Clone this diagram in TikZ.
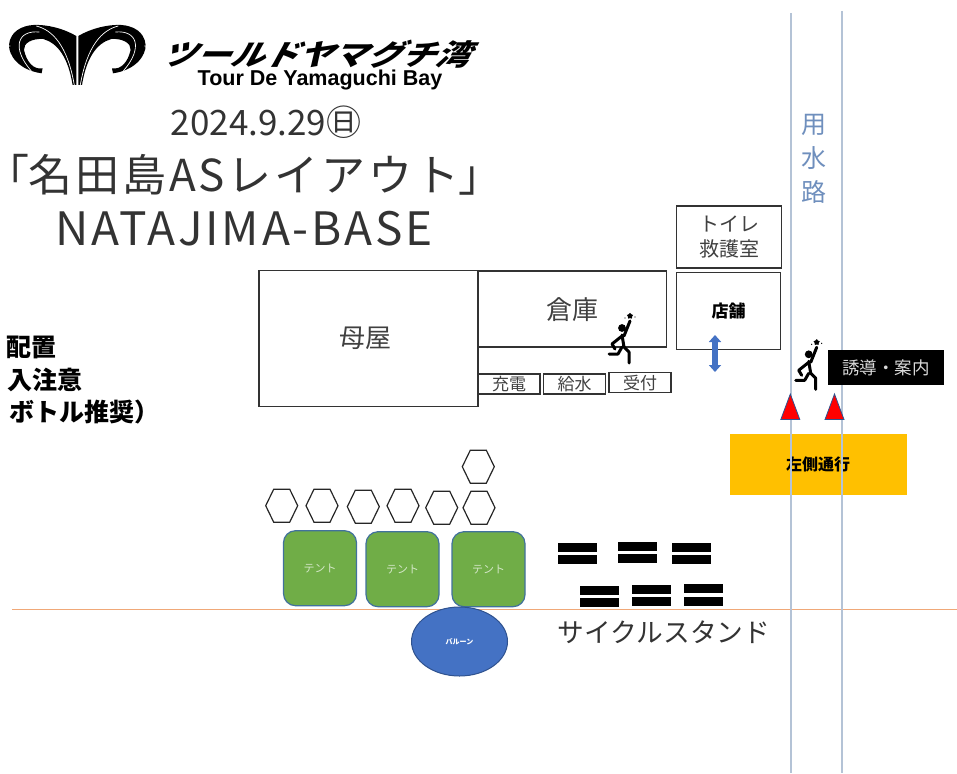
\documentclass[tikz,border=0pt]{standalone}
\usepackage{fontspec}
\setmainfont{Noto Sans CJK JP}
\newfontfamily\logofont{Liberation Sans}
\newfontfamily\tightfont[RawFeature=+palt]{Noto Sans CJK JP}
\usepackage{tikz}
\usetikzlibrary{shapes,arrows,arrows.meta}
\definecolor{tentgreen}{HTML}{70AD47}
\definecolor{tentline}{HTML}{41719C}
\definecolor{balloonblue}{HTML}{4472C4}
\definecolor{balloonline}{HTML}{2F528F}
\definecolor{signyellow}{HTML}{FFC000}
\definecolor{canalblue}{HTML}{B4C3D6}
\definecolor{canaltext}{HTML}{6F8FBD}
\definecolor{roadorange}{HTML}{F0A878}
\newcommand{\pxfont}[1]{\fontsize{#1}{#1}\selectfont}
\tikzset{
  building/.style={draw=black!80,line width=1.4pt,inner sep=0pt,text=black!75},
  tentbox/.style={draw=tentline,fill=tentgreen,line width=1.2pt,rounded corners=12pt,
    minimum width=73pt,minimum height=75pt,inner sep=0pt,text=white!70!tentgreen,font=\pxfont{11}},
  titletext/.style={text=black!80,inner sep=0pt},
  runner/.pic={
    \fill (0,0) circle (3.9);
    \draw[line width=3pt,line cap=round,line join=round]
      (8,-7) -- (2,8) (0,8) -- (-10,16) -- (-7,21)
      (0,7) -- (2,19) -- (7,24) -- (7,35)
      (0,19) -- (-4,26) -- (-13,26);
    \node[star,fill=black,minimum size=6.5pt,inner sep=0pt] (-spark) at (8,-12) {};
    \fill (3,-10) circle (.7) (13,-11) circle (.7);
  }
}
\begin{document}
\begin{tikzpicture}[x=1pt,y=-1pt]
  \useasboundingbox (0,0) rectangle (957,773);
  \foreach \s in {1,-1} {
    \begin{scope}[shift={(77.3,0)},xscale=\s]
      \fill (-1,36) .. controls (-14,28.3) and (-30.7,24.3) .. (-44,25)
        .. controls (-55.7,25.7) and (-67.3,31.7) .. (-68.3,45)
        .. controls (-68.7,55) and (-59,70) .. (-35.7,73.3)
        -- (-34.7,68.3)
        .. controls (-44,70) and (-50.7,61.7) .. (-53.3,50)
        .. controls (-54,43.3) and (-45.7,38.3) .. (-34,39)
        .. controls (-19,43.3) and (-9,58.3) .. (-4.7,85)
        -- (-1,85) -- cycle;
      \draw[white,line width=.7pt] (-41,26) .. controls (-25,30) and (-10,45) .. (-3,85);
      \draw[white,line width=.7pt] (-38,32) .. controls (-60,30) and (-66,48) .. (-46,71);
      \draw[white,line width=.7pt] (-52,23) -- (-54,27) (-61,25) -- (-59,29)
        (-70,35) -- (-66,37) (-71,46) -- (-67,46) (-70,57) -- (-66,55);
    \end{scope}
  }
  \node[titletext,text=black,font=\pxfont{29}\bfseries,xslant=.55,xscale=1.18,transform shape] (logomark) at (321,54) {ツールドヤマグチ湾};
  \node[titletext,text=black,font=\logofont\pxfont{21.5}\bfseries] (logoname) at (320,79.5) {Tour De Yamaguchi Bay};
  \node[titletext,font=\pxfont{35}] (datetext) at (266,122) {2024.9.29㊐};
  \node[titletext,font=\pxfont{44}\addfontfeature{LetterSpace=6.5}] (maintitle) at (244,175) {{\tightfont 「}名田島ASレイアウト{\tightfont 」}};
  \node[titletext,font=\pxfont{46}\addfontfeature{LetterSpace=6}] (basename) at (244,229) {NATAJIMA-BASE};
  \node[titletext,text=black,anchor=east,font=\pxfont{25}\bfseries] (notea) at (57,347) {配置};
  \node[titletext,text=black,anchor=east,font=\pxfont{25}\bfseries] (noteb) at (83,380) {入注意};
  \node[titletext,text=black,anchor=east,font=\pxfont{25}\bfseries] (notec) at (160,412) {ボトル推奨）};
  \draw[roadorange,line width=1.2pt] (12,609.5) coordinate (roada) -- (957,609.5) coordinate (roadb);
  \node[fill=signyellow,minimum width=177pt,minimum height=61pt,inner sep=0pt,font=\pxfont{16}\bfseries] (keepleft) at (818,464.5) {左側通行};
  \draw[canalblue,line width=1.4pt] (791,13) coordinate (canala) -- (791,773) coordinate (canalb);
  \draw[canalblue,line width=1.4pt] (842,11) coordinate (canalc) -- (842,773) coordinate (canald);
  \node[text=canaltext,inner sep=0pt,align=center,font=\fontsize{25}{34}\selectfont] (canal) at (814,159) {用\\水\\路};
  \node[building,minimum width=219pt,minimum height=136pt] (moya) at (368.5,338.5) {};
  \node[titletext,text=black!75,font=\pxfont{26}] (moyatext) at (365,338) {母屋};
  \node[building,minimum width=188.5pt,minimum height=76pt] (souko) at (572.5,309) {};
  \node[titletext,text=black!75,font=\pxfont{26}] (soukotext) at (572,310) {倉庫};
  \node[building,minimum width=62pt,minimum height=20pt,font=\pxfont{17}] (juden) at (509,384) {充電};
  \node[building,minimum width=62pt,minimum height=20pt,font=\pxfont{17}] (kyusui) at (574.5,384) {給水};
  \node[building,minimum width=62pt,minimum height=20pt,font=\pxfont{17}] (uketsuke) at (640,382.7) {受付};
  \node[building,minimum width=105.5pt,minimum height=62pt,align=center,font=\fontsize{20}{25}\selectfont] (toire) at (729,237) {トイレ\\救護室};
  \node[building,minimum width=104.5pt,minimum height=76.5pt,text=black,font=\pxfont{17}\bfseries] (tenpo) at (728.5,311) {店舗};
  \coordinate (doorup) at (715,335);
  \coordinate (doordown) at (715,372);
  \draw[{Triangle[width=12pt,length=7pt]}-{Triangle[width=12pt,length=7pt]},balloonblue,line width=5.5pt] (doorup) -- (doordown);
  \pic at (622,328) {runner};
  \node[fill=black,text=white!85!black,minimum width=116.5pt,minimum height=35pt,inner sep=0pt,font=\pxfont{17.5}] (guide) at (886,367.5) {誘導・案内};
  \pic at (808.7,354.3) {runner};
  \foreach \x in {790.3,834.5} {
    \draw[fill=red,draw=balloonline,line width=.8pt,line join=miter] (\x,394) -- (\x+9.5,419.5) -- (\x-9.5,419.5) -- cycle;
  }
  \foreach \x/\y in {281.7/505.7,322/505.7,363.3/506.7,403/505.7,441.7/507.7,479/507.7,478.3/466.7} {
    \draw[black!85,line width=1.2pt] (\x-16,\y) -- (\x-8,\y-16.5) -- (\x+8,\y-16.5)
      -- (\x+16,\y) -- (\x+8,\y+16.5) -- (\x-8,\y+16.5) -- cycle;
  }
  \node[tentbox] (tenta) at (320,568.2) {テント};
  \node[tentbox] (tentb) at (402.5,569.2) {テント};
  \node[tentbox] (tentc) at (488.5,569.2) {テント};
  \node[ellipse,draw=balloonline,fill=balloonblue,line width=1pt,minimum width=96pt,minimum height=69pt,
    inner sep=0pt,text=white,font=\pxfont{7}\bfseries] (balloon) at (459.5,641.5) {バルーン};
  \foreach \x/\y in {558/542.7,618/542,672/542.7,580/585.7,632/585,684/584.3} {
    \fill (\x,\y) rectangle (\x+39,\y+9);
    \fill (\x,\y+12.3) rectangle (\x+39,\y+21.3);
  }
  \node[titletext,font=\pxfont{26.7}] (standtext) at (664,632) {サイクルスタンド};
\end{tikzpicture}
\end{document}
